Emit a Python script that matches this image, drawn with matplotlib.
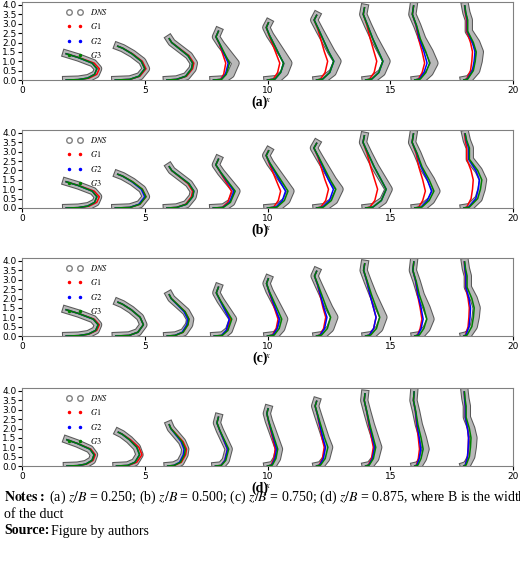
import numpy as np
import matplotlib
matplotlib.use("Agg")
import matplotlib.pyplot as plt
import matplotlib.patheffects as pe
from matplotlib.lines import Line2D

plt.rcParams["mathtext.fontset"] = "stix"

stations = [2, 4, 6, 8, 10, 12, 14, 16, 18]
prof_y = [
    [0, 0.02, 0.1, 0.3, 0.6, 0.9, 1.2, 1.4],
    [0, 0.03, 0.2, 0.6, 1.0, 1.4, 1.7, 1.8],
    [0, 0.03, 0.2, 0.6, 0.9, 1.3, 1.7, 2.0, 2.2],
    [0, 0.03, 0.3, 0.9, 1.4, 1.9, 2.3, 2.6],
    [0, 0.05, 0.4, 0.9, 1.4, 1.9, 2.4, 2.8, 3.05],
    [0, 0.05, 0.4, 1.0, 1.5, 2.1, 2.7, 3.2, 3.45],
    [0, 0.05, 0.4, 1.0, 1.6, 2.2, 2.9, 3.5, 3.85],
    [0, 0.05, 0.4, 0.9, 1.5, 2.2, 2.9, 3.5, 3.95],
    [0, 0.05, 0.5, 1.0, 1.5, 2.0, 2.6, 3.2, 3.6, 3.95],
]
prof_dx = [
    [-0.2, 0.3, 0.7, 1.0, 1.1, 0.9, 0.3, -0.2],
    [-0.2, 0.4, 0.8, 1.05, 0.9, 0.5, 0.1, -0.1],
    [-0.1, 0.3, 0.7, 0.95, 1.0, 0.8, 0.4, 0.1, 0.0],
    [-0.2, 0.2, 0.5, 0.7, 0.4, 0.1, -0.1, 0.0],
    [0.0, 0.4, 0.7, 0.85, 0.6, 0.35, 0.1, -0.05, 0.05],
    [0.0, 0.3, 0.65, 0.85, 0.6, 0.35, 0.1, -0.1, 0.0],
    [0.0, 0.3, 0.65, 0.85, 0.6, 0.35, 0.1, -0.1, -0.05],
    [0.0, 0.3, 0.6, 0.8, 0.6, 0.3, 0.1, -0.1, -0.05],
    [0.0, 0.2, 0.5, 0.6, 0.65, 0.5, 0.2, 0.2, 0.1, 0.05],
]
panel_labels = ["(a)", "(b)", "(c)", "(d)"]
bulge = [
    [1, 1, 1, 1, 1, 1, 1, 1, 1],
    [1, 1, 1, 1.05, 1.1, 1.1, 1.1, 1.1, 1.2],
    [1, 0.9, 0.85, 0.85, 0.8, 0.85, 0.85, 0.8, 0.8],
    [0.85, 0.75, 0.65, 0.6, 0.55, 0.6, 0.6, 0.55, 0.6],
]
g1_red = [
    [-0.05, 0, 0, 0.4, 0.35, 0.4, 0.4, 0.4, 0.3],
    [-0.05, 0, 0.05, 0.2, 0.4, 0.45, 0.45, 0.45, 0.4],
    [-0.05, 0, 0.05, 0.1, 0.25, 0.35, 0.3, 0.35, 0.3],
    [-0.05, -0.1, -0.05, 0.05, 0.15, 0.2, 0.2, 0.25, 0.2],
]
g2_red = [
    [0.05, 0.05, 0.05, 0.3, 0.2, 0.15, 0.15, 0.3, 0.2],
    [0.05, 0.05, 0.0, 0.1, 0.2, 0.25, 0.1, 0.2, 0.15],
    [0.0, 0.0, 0.1, 0.15, 0.2, 0.3, 0.3, 0.3, 0.25],
    [0.0, 0.0, 0.05, 0.05, 0.1, 0.15, 0.15, 0.2, 0.2],
]
g3_red = [
    [0.05, 0.05, 0.05, 0.25, 0.2, 0.15, 0.15, 0.2, 0.15],
    [0.05, 0.0, 0.0, 0.05, 0.1, 0.15, 0.1, 0.1, 0.05],
    [0.0, 0.0, 0.05, 0.05, 0.1, 0.15, 0.15, 0.15, 0.1],
    [0.0, 0.0, 0.0, 0.0, 0.05, 0.05, 0.1, 0.1, 0.1],
]

W, H = 520, 563
fig = plt.figure(figsize=(W / 100, H / 100), dpi=100)
y0_px = [80, 208, 336, 466]
ppu = 18.75
ytop = 4.15
for p in range(4):
    bottom = 1 - y0_px[p] / H
    ax = fig.add_axes([22 / W, bottom, 491 / W, ytop * ppu / H])
    for s, x0 in enumerate(stations):
        y = np.array(prof_y[s])
        dx = np.array(prof_dx[s]) * bulge[p][s]
        w = np.clip(dx, 0, None) / dx.max()
        ax.plot(x0 + dx, y, color="0.72", lw=4.5, zorder=2,
                path_effects=[pe.Stroke(linewidth=6, foreground="0.35"), pe.Normal()])
        for red, col in ((g1_red, "red"), (g2_red, "blue"), (g3_red, "green")):
            ax.plot(x0 + dx - red[p][s] * w, y, color=col, lw=1.1, zorder=3)
    ax.set_xlim(0, 20)
    ax.set_ylim(0, ytop)
    ax.set_xticks([0, 5, 10, 15, 20])
    ax.set_yticks(np.arange(0, 4.01, 0.5))
    ax.tick_params(labelsize=6.5, pad=1, length=3)
    for sp in ax.spines.values():
        sp.set_color("0.5")
    ax.set_xlabel("$x$", fontsize=6, labelpad=0)
    ax.set_ylabel("$y$", fontsize=6, labelpad=0)
    handles = [
        Line2D([], [], ls="none", marker="o", mfc="none", mec="0.5", ms=4),
        Line2D([], [], ls="none", marker=".", color="red", ms=3),
        Line2D([], [], ls="none", marker=".", color="blue", ms=3),
        Line2D([], [], ls="none", marker=".", color="green", ms=3),
    ]
    ax.legend(handles, ["$DNS$", "$G1$", "$G2$", "$G3$"], loc="upper left",
              frameon=False, numpoints=2, fontsize=6, labelspacing=0.5,
              borderaxespad=0.2, bbox_to_anchor=(0.08, 1.0))
    fig.text(260 / W, 1 - (y0_px[p] + 22) / H, panel_labels[p], ha="center",
             va="center", fontsize=10, fontweight="bold", family="Liberation Serif")

fs = 10
fig.text(0.008, 1 - 497 / H,
         r"$\mathbf{Notes:}$ (a) $z/B$ = 0.250; (b) $z/B$ = 0.500; (c) $z/B$ = 0.750; (d) $z/B$ = 0.875, where B is the width",
         fontsize=fs, family="Liberation Serif", va="center")
fig.text(0.008, 1 - 514 / H, "of the duct", fontsize=fs, family="Liberation Serif", va="center")
fig.text(0.008, 1 - 531 / H, "Source:", fontsize=fs, family="Liberation Serif",
         fontweight="bold", va="center")
fig.text(0.008 + 47 / W, 1 - 531 / H, "Figure by authors", fontsize=fs,
         family="Liberation Serif", va="center")
fig.savefig("out.png", dpi=100)
